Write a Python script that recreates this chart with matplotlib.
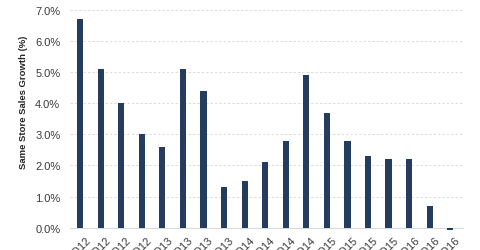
import matplotlib
matplotlib.use("Agg")
import matplotlib.pyplot as plt
from matplotlib.ticker import FuncFormatter
import matplotlib.transforms as mtransforms

quarters = ["1Q12", "2Q12", "3Q12", "4Q12",
            "1Q13", "2Q13", "3Q13", "4Q13",
            "1Q14", "2Q14", "3Q14", "4Q14",
            "1Q15", "2Q15", "3Q15", "4Q15",
            "1Q16", "2Q16", "3Q16"]
growth = [6.7, 5.1, 4.0, 3.0, 2.6, 5.1, 4.4, 1.3, 1.5, 2.1,
          2.8, 4.9, 3.7, 2.8, 2.3, 2.2, 2.2, 0.7, -0.08]
yticks = [0, 1, 2, 3, 4, 5, 6, 7]

plt.rcParams["font.family"] = ["Liberation Sans", "DejaVu Sans"]

fig = plt.figure(figsize=(4.8, 2.51), dpi=100)
ax = fig.add_axes([0.146, 0.089, 0.819, 0.868])

x = list(range(len(quarters)))
ax.bar(x, growth, width=0.3, color="#243c5e", zorder=3, clip_on=False)

ax.set_ylim(0, 7)
ax.set_xlim(-0.49, 18.63)
ax.set_yticks(yticks)
ax.yaxis.set_major_formatter(FuncFormatter(lambda v, _: f"{v:.1f}%"))
ax.grid(axis="y", color="#dcdcdc", linestyle=(0, (2.5, 2)), linewidth=0.7, zorder=0)

for side in ["top", "right", "left"]:
    ax.spines[side].set_visible(False)
ax.spines["bottom"].set_color("#d9d9d9")
ax.spines["bottom"].set_linewidth(0.8)

ax.tick_params(axis="both", length=0, labelsize=8, colors="#3a3a3a")
ax.tick_params(axis="y", pad=7)
ax.set_xticks(x)
ax.set_xticklabels(quarters, rotation=45, ha="right", va="center",
                   rotation_mode="anchor")
offset = mtransforms.ScaledTranslation(6 / 72, -4 / 72, fig.dpi_scale_trans)
for lbl in ax.get_xticklabels():
    lbl.set_transform(lbl.get_transform() + offset)

ax.set_ylabel("Same Store Sales Growth (%)", fontsize=6.8, fontweight="bold",
              color="#262626")
ax.yaxis.set_label_coords(-0.106, 0.58)

fig.savefig("out.png", dpi=100)
